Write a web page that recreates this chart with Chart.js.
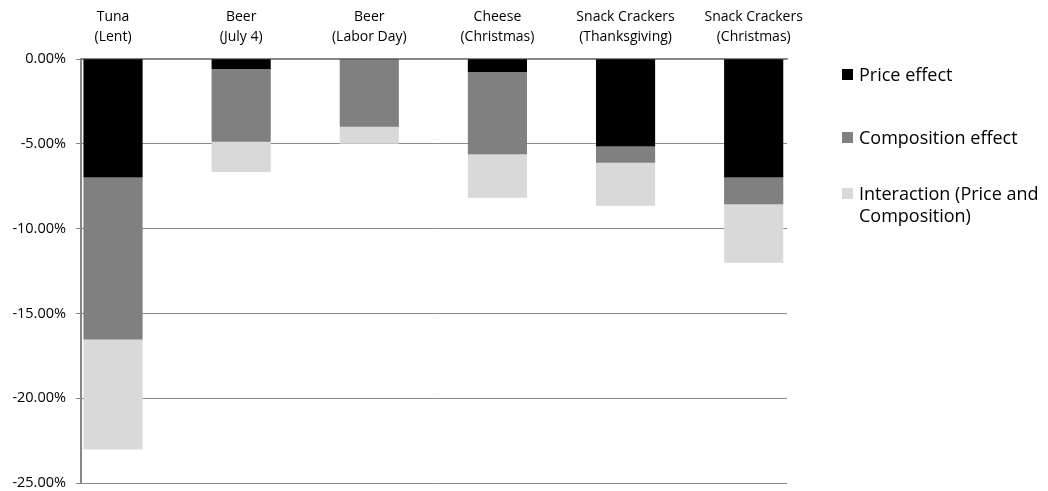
<!DOCTYPE html>
<html>
<head>
<meta charset="utf-8">
<script src="https://cdn.jsdelivr.net/npm/chart.js@4/dist/chart.umd.min.js"></script>
<style>
  html, body { margin: 0; padding: 0; background: #fff; }
  #wrap { position: relative; width: 1048px; height: 491px; }
  #legend { position: absolute; left: 842px; top: 0; font-family: "Open Sans", sans-serif; font-size: 18px; color: #000; }
  .item { position: absolute; left: 0; display: flex; align-items: flex-start; white-space: nowrap; line-height: 22px; }
  .swatch { width: 11px; height: 11px; margin-top: 6px; margin-right: 6px; flex: none; }
</style>
</head>
<body>
<div id="wrap">
  <canvas id="c" width="1048" height="491"></canvas>
  <div id="legend"></div>
</div>
<script>
// Holiday categories (two-line labels)
const categories = [
  ['Tuna', '(Lent)'],
  ['Beer', '(July 4)'],
  ['Beer', '(Labor Day)'],
  ['Cheese', '(Christmas)'],
  ['Snack Crackers', '(Thanksgiving)'],
  ['Snack Crackers', '(Christmas)']
];

// Decomposition of the price change, in percent
const priceEffect       = [-6.96, -0.57,  0.00, -0.75, -5.13, -6.96];
const compositionEffect = [-9.56, -4.29, -3.97, -4.85, -0.97, -1.59];
const interactionEffect = [-6.49, -1.79, -1.01, -2.56, -2.53, -3.45];

const seriesLabels = [['Price effect'], ['Composition effect'], ['Interaction (Price and', 'Composition)']];
const seriesColors = ['#000000', '#808080', '#d9d9d9'];

const yTicks = [0, -5, -10, -15, -20, -25];

const toPoints = arr => arr.map((v, i) => ({ x: i, y: v }));
const seriesValues = [priceEffect, compositionEffect, interactionEffect];

const datasets = seriesValues.map((vals, k) => ({
  label: seriesLabels[k].join(' '),
  data: toPoints(vals),
  backgroundColor: seriesColors[k],
  borderWidth: 0,
  barThickness: 58.5
}));

const chart = new Chart(document.getElementById('c'), {
  type: 'bar',
  data: { datasets },
  options: {
    responsive: false,
    animation: false,
    devicePixelRatio: 1,
    layout: { padding: { left: 0, right: 261, top: 0, bottom: 8 } },
    plugins: { legend: { display: false }, tooltip: { enabled: false } },
    scales: {
      x: {
        type: 'linear',
        position: 'top',
        stacked: true,
        offset: false,
        min: -0.25,
        max: 5.26,
        afterBuildTicks: s => { s.ticks = categories.map((_, i) => ({ value: i })); },
        afterFit: s => {
          s.height = 59;
          s.paddingLeft = s.paddingRight = s.paddingTop = s.paddingBottom = 0;
        },
        grid: { display: false, drawTicks: false },
        border: { display: true, color: '#868686', width: 1.5 },
        ticks: {
          autoSkip: false,
          maxRotation: 0,
          padding: 12,
          color: '#000',
          font: { family: '"Open Sans", sans-serif', size: 14, lineHeight: 1.43 },
          callback: v => categories[v]
        }
      },
      y: {
        stacked: true,
        min: -25,
        max: 0,
        afterBuildTicks: s => { s.ticks = yTicks.map(v => ({ value: v })); },
        afterFit: s => {
          s.width = 81;
          s.paddingLeft = s.paddingRight = s.paddingTop = s.paddingBottom = 0;
        },
        grid: { color: '#8a8a8a', lineWidth: 1, tickLength: 5, drawTicks: true, tickColor: '#868686' },
        border: { display: true, color: '#868686', width: 2 },
        ticks: {
          padding: 10,
          color: '#000',
          font: { family: '"Open Sans", sans-serif', size: 14.5 },
          callback: v => v.toFixed(2) + '%'
        }
      }
    }
  }
});

// Legend built from the datasets
const legendTops = [63, 126, 182];
const legend = document.getElementById('legend');
chart.data.datasets.forEach((ds, k) => {
  const item = document.createElement('div');
  item.className = 'item';
  item.style.top = legendTops[k] + 'px';
  const sw = document.createElement('span');
  sw.className = 'swatch';
  sw.style.background = ds.backgroundColor;
  const txt = document.createElement('span');
  txt.innerHTML = seriesLabels[k].join('<br>');
  item.appendChild(sw);
  item.appendChild(txt);
  legend.appendChild(item);
});
</script>
</body>
</html>
